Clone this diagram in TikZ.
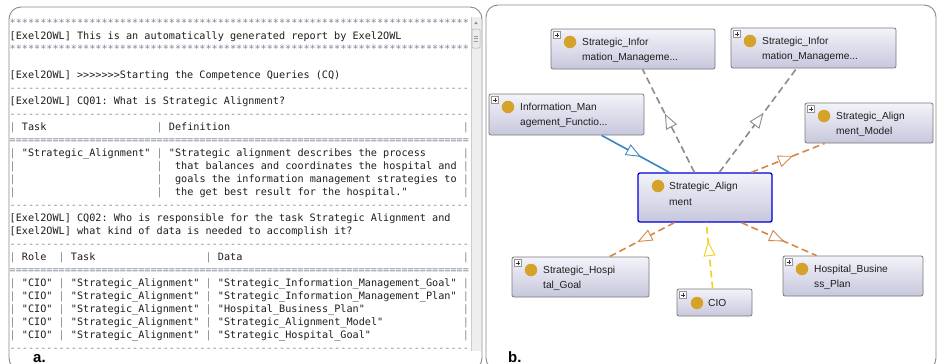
\documentclass[tikz,border=0pt]{standalone}
\usepackage{fontspec}
\setmainfont{Liberation Sans}
\setmonofont{DejaVu Sans Mono}[Ligatures=TeXOff]
\usetikzlibrary{arrows.meta,decorations.markings}
\definecolor{txt}{HTML}{1E1E1E}
\definecolor{sepc}{HTML}{7C8796}
\definecolor{panelc}{HTML}{8A8A8A}
\definecolor{boxtop}{HTML}{F3F3FA}
\definecolor{boxbot}{HTML}{C7C7DD}
\definecolor{boxline}{HTML}{7A7A7A}
\definecolor{dotc}{HTML}{D6A32A}
\definecolor{eg}{HTML}{8C8C8C}
\definecolor{eb}{HTML}{3F86C0}
\definecolor{eo}{HTML}{D4884A}
\definecolor{ey}{HTML}{F2D21A}
\definecolor{scr}{HTML}{EEEEEE}
\tikzset{
  mono/.style={font=\ttfamily\fontsize{10.17}{12}\selectfont, anchor=base west, inner sep=0pt, text=txt},
  rulech/.style={mono, text=sepc, text depth=0pt},
  panel/.style={draw=panelc, line width=0.9pt, rounded corners=12pt},
  obox/.style={draw=boxline, line width=0.8pt, rounded corners=2pt, top color=boxtop, bottom color=boxbot, inner sep=0pt},
  dot/.style={circle, fill=dotc, minimum size=12.5pt, inner sep=0pt},
  lbl/.style={font=\fontsize{10.2}{12}\selectfont, anchor=base west, inner sep=0pt, text=txt},
  plusbox/.style={draw=boxline!80, fill=white!85!blue!8, line width=0.5pt, minimum size=7pt, inner sep=0pt},
  midtip/.style={postaction={decorate}, decoration={markings, mark=at position #1 with {\arrow{Triangle[length=15pt,width=12pt,fill=white,line width=0.9pt]}}}},
  ebase/.style={line width=1.6pt},
  edgeg/.style={ebase, draw=eg, dash pattern=on 7pt off 4pt},
  edgeo/.style={ebase, draw=eo, dash pattern=on 7pt off 4pt},
  edgey/.style={ebase, draw=ey, dash pattern=on 7pt off 4pt},
  edgeb/.style={ebase, draw=eb},
  panlbl/.style={font=\bfseries\fontsize{15}{15}\selectfont, anchor=base west, inner sep=0pt, text=black, text height=10.5pt, text depth=0pt}
}
% text cell: col, row, text
\newcommand\cl[3]{\node[mono] (c#2x#1) at ({9.5+6.125*#1},{26+13*(#2-1)}) {#3};}
% bar: col, row
\newcommand\br[2]{\node[rulech] (b#2x#1) at ({9.5+6.125*#1},{26+13*(#2-1)}) {|};}
% full rule line: row, char
\newcommand\rl[2]{\node[rulech] (r#1) at (9.5,{26+13*(#1-1)}) {\foreach\k in {1,...,75}{#2}};}
% ontology node: name, x, y, w, h, line1, line2
\newcommand\onode[7]{%
  \node[obox, minimum width=#4pt, minimum height=#5pt] (#1) at (#2+#4/2,#3+#5/2) {};
  \node[dot] (#1d) at (#2+19,#3+13) {};
  \node[lbl] (#1a) at (#2+31,#3+16.5) {#6};
  \node[lbl] (#1b) at (#2+31,#3+31.5) {#7};
}
\newcommand\plusicon[1]{%
  \node[plusbox] (#1p) at ([xshift=6.5pt,yshift=-6.5pt]#1.north west) {};
  \draw[line width=0.6pt, black!80] ([xshift=-2.2pt]#1p.center) -- ([xshift=2.2pt]#1p.center);
  \draw[line width=0.6pt, black!80] ([yshift=-2.2pt]#1p.center) -- ([yshift=2.2pt]#1p.center);
}
\begin{document}
\begin{tikzpicture}[x=1pt,y=-1pt]
\useasboundingbox (0,0) rectangle (940,364);
\fill[white] (0,0) rectangle (940,364);

% ---------------- panel a ----------------
\draw[panel] (9,7) rectangle (482,370);
% scrollbar
\fill[scr] (471,17) rectangle (481,351);
\draw[black!20, line width=0.5pt] (471,17) -- (471,351);
\fill[black!45] (474.3,24) -- (477.7,24) -- (476,21.5) -- cycle;
\draw[black!30, fill=black!8, line width=0.5pt, rounded corners=1pt] (472,29) rectangle (480,48);
\draw[black!40, line width=0.4pt] (474,36) -- (478,36) (474,38.5) -- (478,38.5) (474,41) -- (478,41);

\rl{1}{*}
\cl{0}{2}{[Exel2OWL] This is an automatically generated report by Exel2OWL}
\rl{3}{*}
\cl{0}{5}{[Exel2OWL] >>>>>>>Starting the Competence Queries (CQ)}
\rl{6}{-}
\cl{0}{7}{[Exel2OWL] CQ01: What is Strategic Alignment?}
\rl{8}{-}
\br{0}{9}\br{24}{9}\br{74}{9}
\cl{2}{9}{Task}\cl{26}{9}{Definition}
\rl{10}{=}
\br{0}{11}\br{24}{11}\br{74}{11}
\cl{2}{11}{"Strategic\_Alignment"}
\cl{26}{11}{"Strategic alignment describes the process}
\br{0}{12}\br{24}{12}\br{74}{12}
\cl{27}{12}{that balances and coordinates the hospital and}
\br{0}{13}\br{24}{13}\br{74}{13}
\cl{27}{13}{goals the information management strategies to}
\br{0}{14}\br{24}{14}\br{74}{14}
\cl{27}{14}{the get best result for the hospital."}
\rl{15}{-}
\cl{0}{16}{[Exel2OWL] CQ02: Who is responsible for the task Strategic Alignment and}
\cl{0}{17}{[Exel2OWL] what kind of data is needed to accomplish it?}
\rl{18}{-}
\br{0}{19}\br{8}{19}\br{32}{19}\br{74}{19}
\cl{2}{19}{Role}\cl{10}{19}{Task}\cl{34}{19}{Data}
\rl{20}{=}
\foreach \rw/\dt in {21/Strategic\_Information\_Management\_Goal,
                     22/Strategic\_Information\_Management\_Plan,
                     23/Hospital\_Business\_Plan,
                     24/Strategic\_Alignment\_Model,
                     25/Strategic\_Hospital\_Goal}{
  \br{0}{\rw}\br{8}{\rw}\br{32}{\rw}\br{74}{\rw}
  \cl{2}{\rw}{"CIO"}
  \cl{10}{\rw}{"Strategic\_Alignment"}
  \cl{34}{\rw}{"\dt"}
}
\rl{26}{-}
\node[panlbl] (la) at (33,362.5) {a.};

% ---------------- panel b ----------------
\draw[panel] (486,5) rectangle (936,370);

\onode{SIM1}{551}{29}{164}{40}{Strategic\_Infor}{mation\_Manageme...}
\onode{SIM2}{731}{28}{165}{40}{Strategic\_Infor}{mation\_Manageme...}
\onode{IMF}{489}{94}{155}{41}{Information\_Man}{agement\_Functio...}
\onode{SAM}{805}{103}{128}{40}{Strategic\_Align}{ment\_Model}
\onode{SHG}{512}{257}{137}{40}{Strategic\_Hospi}{tal\_Goal}
\onode{HBP}{783}{256}{140}{40}{Hospital\_Busine}{ss\_Plan}
% central node
\node[obox, draw=blue!85!black, line width=1.3pt, minimum width=134pt, minimum height=49pt] (SA) at (705,197.5) {};
\node[dot] (SAd) at (658,186) {};
\node[lbl] (SAa) at (669,189.5) {Strategic\_Align};
\node[lbl] (SAb) at (669,205.5) {ment};
% CIO node
\node[obox, minimum width=75pt, minimum height=27pt] (CIO) at (714.5,302.5) {};
\node[dot] (CIOd) at (697,303) {};
\node[lbl] (CIOa) at (708,306.6) {CIO};

\plusicon{SIM1}\plusicon{SIM2}\plusicon{IMF}\plusicon{SAM}\plusicon{SHG}\plusicon{HBP}\plusicon{CIO}

% edges
\draw[edgeb, midtip=0.58] ([xshift=113pt]IMF.south west) -- ([xshift=32pt]SA.north west);
\draw[edgeg, midtip=0.57] ([xshift=57pt]SA.north west) -- ([xshift=92pt]SIM1.south west);
\draw[edgeg, midtip=0.57] ([xshift=82pt]SA.north west) -- ([xshift=66pt]SIM2.south west);
\draw[edgeo, midtip=0.57] ([xshift=114pt]SA.north west) -- ([xshift=20pt]SAM.south west);
\draw[edgeo, midtip=0.57] ([xshift=37pt]SA.south west) -- ([xshift=98pt]SHG.north west);
\draw[edgey, midtip=0.72] ([xshift=36pt]CIO.north west) -- ([xshift=69pt]SA.south west);
\draw[edgeo, midtip=0.57] ([xshift=104pt]SA.south west) -- ([xshift=34pt]HBP.north west);

\node[panlbl] (lb) at (508,362.5) {b.};
\end{tikzpicture}
\end{document}
